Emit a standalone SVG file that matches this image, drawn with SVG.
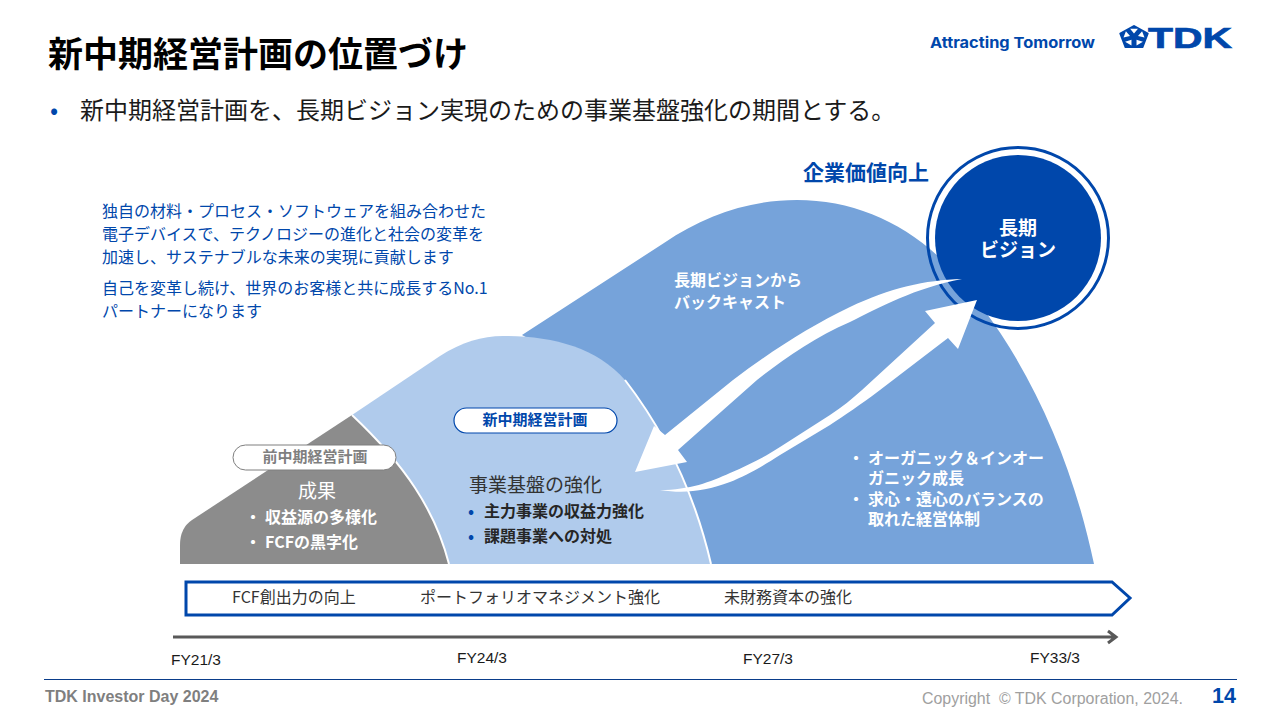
<svg xmlns="http://www.w3.org/2000/svg" width="1280" height="720" viewBox="0 0 1280 720">
<style>
text{font-family:"Noto Sans CJK JP","Noto Sans",sans-serif}
.l{font-family:"Liberation Sans",Arial,sans-serif}
.b{font-weight:700}
.navy{fill:#0047ab}
.w{fill:#fff}
.dk{fill:#262626}
.t16{font-size:16px}
.fy{font-family:"Liberation Sans",Arial,sans-serif;font-size:15.5px;fill:#1a1a1a}
.pill{font-size:15px;font-weight:700;text-anchor:middle}
.bar{font-size:16px;fill:#333}
.sep{fill:none;stroke:#fff;stroke-width:2}
</style>
<rect width="1280" height="720" fill="#fff"/>
<g id="header">
<text x="48" y="67" font-size="35" font-weight="700" fill="#000">新中期経営計画の位置づけ</text>
<text x="50" y="119" font-size="24" class="navy">•</text>
<text x="80" y="119" font-size="24" fill="#1a1a1a">新中期経営計画を、長期ビジョン実現のための事業基盤強化の期間とする。</text>
</g>
<g id="logo">
<text class="b navy" style="font-family:Inter,sans-serif" x="930" y="48" font-size="15" textLength="165" lengthAdjust="spacingAndGlyphs">Attracting Tomorrow</text>
<g transform="translate(1134 37) scale(1.05 .88) translate(-1133 -37)">
<path class="navy" stroke="#0047ab" stroke-width="2" stroke-linejoin="round" d="M1133 24.5L1146 33L1141 48.5H1125L1120 33Z"/>
<path fill="#fff" d="M1133 33L1129.3 27.7H1136.8ZM1136.8 35.8L1140.7 30.6L1143 37.7ZM1135.4 40.2L1141.5 42.3L1135.4 46.7ZM1130.6 40.2V46.7L1124.5 42.3ZM1129.2 35.8L1123 37.7L1125.3 30.6Z"/>
</g>
<text class="l b navy" x="1148" y="47.5" font-size="30" stroke="#0047ab" stroke-width=".7" textLength="84" lengthAdjust="spacingAndGlyphs">TDK</text>
</g>
<g id="plan-text" class="navy t16">
<text x="102" y="217">独自の材料・プロセス・ソフトウェアを組み合わせた</text>
<text x="102" y="240">電子デバイスで、テクノロジーの進化と社会の変革を</text>
<text x="102" y="263">加速し、サステナブルな未来の実現に貢献します</text>
<text x="102" y="294">自己を変革し続け、世界のお客様と共に成長するNo.1</text>
<text x="102" y="317">パートナーになります</text>
</g>
<g id="mountain-long">
<path fill="#76a3da" d="M522 335L664 243C705 215 750 200 797 200C850 200 900 220 940 258C1020 340 1070 450 1094 564H700L640 400Z"/>
<g class="w b t16">
<text x="674" y="286">長期ビジョンから</text>
<text x="674" y="308">バックキャスト</text>
<text x="848" y="464">・</text><text x="868" y="464">オーガニック＆インオー</text>
<text x="868" y="484">ガニック成長</text>
<text x="848" y="505">・</text><text x="868" y="505">求心・遠心のバランスの</text>
<text x="868" y="525">取れた経営体制</text>
</g>
</g>
<g id="mountain-mid">
<path fill="#b0cbec" d="M352 415L440 356C462 342 482 336 503 336C552 336 596 347 625 380C665 432 695 495 711 564H449L352 415Z"/>
<path class="sep" d="M625 380C665 432 695 495 711 564"/>
<rect x="454" y="408" width="163" height="25" rx="12.5" fill="#fff" stroke="#0047ab" stroke-width="1.2"/>
<text class="pill navy" x="535" y="425">新中期経営計画</text>
<text x="469" y="492" font-size="19" fill="#333">事業基盤の強化</text>
<g class="b t16">
<text class="navy" x="468" y="517">•</text><text class="dk" x="484" y="517">主力事業の収益力強化</text>
<text class="navy" x="468" y="542">•</text><text class="dk" x="484" y="542">課題事業への対処</text>
</g>
</g>
<g id="mountain-prev">
<path fill="#8c8c8c" d="M352 415L192 520Q180 528 180 545V564H449C435 510 405 465 352 415Z"/>
<path class="sep" d="M449 564C435 510 405 465 352 415"/>
<rect x="233" y="445" width="163" height="25" rx="12.5" fill="#fff" stroke="#7f7f7f" stroke-width="1"/>
<text class="pill" fill="#7f7f7f" x="315" y="462">前中期経営計画</text>
<text class="w" x="317" y="498" font-size="19" text-anchor="middle">成果</text>
<g class="w b t16">
<text x="245" y="523">・</text><text x="265" y="523">収益源の多様化</text>
<text x="245" y="548">・</text><text x="265" y="548">FCFの黒字化</text>
</g>
</g>
<g id="vision">
<text class="navy b" x="803" y="180" font-size="21">企業価値向上</text>
<circle cx="1018" cy="238" r="90.5" fill="none" stroke="#0047ab" stroke-width="3"/>
<circle cx="1018" cy="238" r="83" fill="#0047ab"/>
<g class="w b" font-size="19" text-anchor="middle">
<text x="1018" y="235">長期</text>
<text x="1018" y="257">ビジョン</text>
</g>
</g>
<g id="connectors" fill="#fff">
<path d="M962 279C925 280 890 288 850 307C810 326 770 352 733 380L665 435L654 426L635 472L687 462L678 450L757 380C785 358 815 337 850 322C880 307 915 288 962 279Z"/>
<path d="M660 490C690 490 710 482 730 473C750 464 765 457 780 447L830 415C842 407 852 399 862 390L935 323L925 311L977 300L958 349L948 338L880 390C860 405 845 415 830 425L780 455C760 468 745 476 730 482C705 491 685 494 660 490Z"/>
</g>
<g id="strategy-bar">
<path d="M186 582H1112L1130 598L1112 615H186Z" fill="#fff" stroke="#0047ab" stroke-width="3"/>
<text class="bar" x="232" y="603">FCF創出力の向上</text>
<text class="bar" x="420" y="603">ポートフォリオマネジメント強化</text>
<text class="bar" x="724" y="603">未財務資本の強化</text>
</g>
<g id="timeline">
<path d="M173 637H1116M1108 631L1116 637L1108 643" fill="none" stroke="#595959" stroke-width="3"/>
<text class="fy" x="171" y="665">FY21/3</text>
<text class="fy" x="457" y="663">FY24/3</text>
<text class="fy" x="743" y="664">FY27/3</text>
<text class="fy" x="1030" y="663">FY33/3</text>
</g>
<g id="footer">
<path d="M44 679.5H1237" stroke="#0a3d8a" stroke-width="1"/>
<text class="l b" x="45" y="702" font-size="16" fill="#7f7f7f">TDK Investor Day 2024</text>
<text class="l" x="922" y="704" font-size="16" fill="#a0a0a0" textLength="261" lengthAdjust="spacingAndGlyphs" xml:space="preserve">Copyright  © TDK Corporation, 2024.</text>
<text class="l b navy" x="1212" y="703" font-size="21.5">14</text>
</g>
</svg>
